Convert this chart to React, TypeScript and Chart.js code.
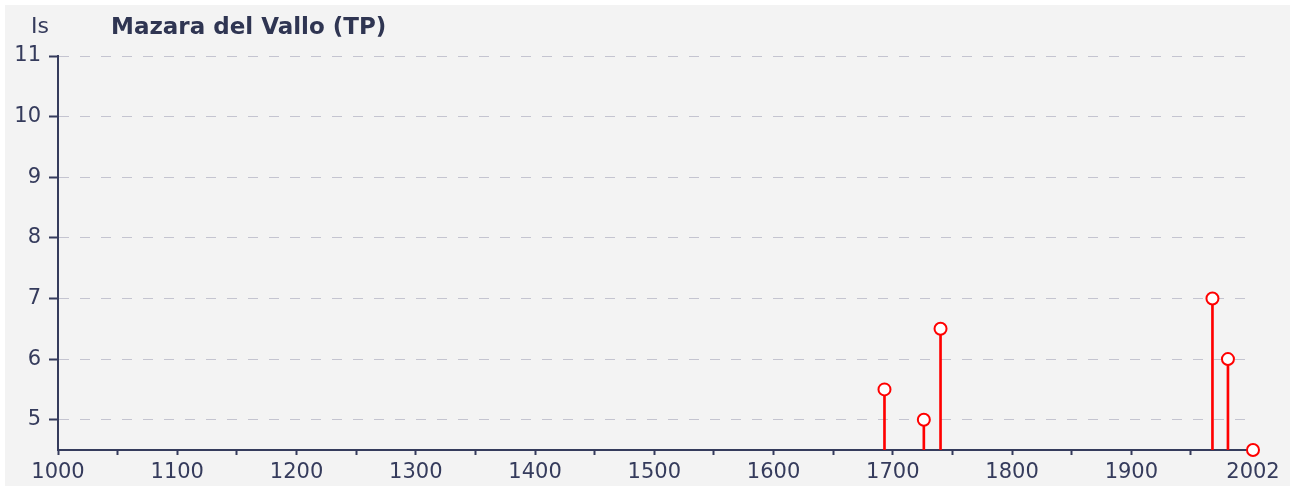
import React, { useEffect, useRef } from "react";
import { Chart, registerables } from "chart.js";

Chart.register(...registerables);

const years = [1693, 1726, 1740, 1968, 1981, 2002];
const intensities = [5.5, 5, 6.5, 7, 6, 4.5];
const xTickValues = [1000, 1050, 1100, 1150, 1200, 1250, 1300, 1350, 1400, 1450, 1500, 1550, 1600, 1650, 1700, 1750, 1800, 1850, 1900, 1950, 2002];
const xLabelValues = [1000, 1100, 1200, 1300, 1400, 1500, 1600, 1700, 1800, 1900, 2002];
const yTickValues = [5, 6, 7, 8, 9, 10, 11];
const titleText = "Mazara del Vallo (TP)";
const yAxisLabel = "Is";

const NAVY = "#353b5c";
const FONT = "'DejaVu Sans', Verdana, sans-serif";

const bgPlugin = {
  id: "bgPanel",
  beforeDraw(chart: any) {
    const ctx = chart.ctx;
    ctx.save();
    ctx.fillStyle = "#ffffff";
    ctx.fillRect(0, 0, chart.width, chart.height);
    ctx.fillStyle = "#f3f3f3";
    ctx.fillRect(5, 5, 1285, 481);
    ctx.restore();
  },
  afterDraw(chart: any) {
    const ctx = chart.ctx;
    ctx.save();
    ctx.fillStyle = "#2f3552";
    ctx.textBaseline = "alphabetic";
    ctx.textAlign = "left";
    ctx.font = `bold 23px ${FONT}`;
    ctx.fillText(titleText, 111, 34);
    ctx.fillStyle = NAVY;
    ctx.font = `22px ${FONT}`;
    ctx.fillText(yAxisLabel, 31, 33);
    ctx.restore();
  },
};

export default function App() {
  const ref = useRef<HTMLCanvasElement | null>(null);
  useEffect(() => {
    if (!ref.current) return;
    const stems = years.map((y, i) => ({ x: y, y: [4.5, intensities[i]] }));
    const points = years.map((y, i) => ({ x: y, y: intensities[i] }));
    const chart = new Chart(ref.current, {
      type: "scatter",
      data: {
        datasets: [
          {
            type: "bar",
            data: stems as any,
            backgroundColor: "#ff0000",
            borderWidth: 0,
            barThickness: 2,
            order: 2,
          } as any,
          {
            type: "scatter",
            data: points,
            pointRadius: 6,
            pointBorderWidth: 2,
            pointBackgroundColor: "#ffffff",
            pointBorderColor: "#ff0000",
            clip: false,
            order: 1,
          } as any,
        ],
      },
      options: {
        responsive: false,
        animation: false,
        layout: { padding: { left: 0, top: 56, right: 39, bottom: 0 } },
        plugins: { legend: { display: false }, tooltip: { enabled: false }, title: { display: false } },
        scales: {
          x: {
            type: "linear",
            offset: false,
            min: 1000,
            max: 2002,
            afterBuildTicks: (scale: any) => {
              scale.ticks = xTickValues.map((v) => ({ value: v }));
            },
            afterFit: (scale: any) => {
              scale.height = 37;
            },
            ticks: {
              autoSkip: false,
              maxRotation: 0,
              padding: 5,
              color: NAVY,
              font: { family: FONT, size: 21 },
              callback: (v: any) => (xLabelValues.includes(Number(v)) ? String(v) : ""),
            },
            grid: {
              offset: false,
              drawOnChartArea: false,
              drawTicks: true,
              tickLength: 5,
              tickColor: NAVY,
              tickWidth: 2,
            },
            border: { display: true, color: NAVY, width: 2 },
          },
          y: {
            type: "linear",
            min: 4.5,
            max: 11,
            afterBuildTicks: (scale: any) => {
              scale.ticks = yTickValues.map((v) => ({ value: v }));
            },
            afterFit: (scale: any) => {
              scale.width = 58;
            },
            ticks: {
              padding: 8,
              color: NAVY,
              font: { family: FONT, size: 21 },
            },
            grid: {
              drawOnChartArea: true,
              color: "#c4c4d0",
              lineWidth: 1,
              tickLength: 9,
              tickColor: NAVY,
              tickWidth: 2,
              tickBorderDash: [],
            } as any,
            border: { display: true, color: NAVY, width: 2, dash: [10, 11] },
          },
        },
      },
      plugins: [bgPlugin],
    } as any);
    return () => chart.destroy();
  }, []);
  return (
    <div style={{ position: "fixed", left: 0, top: 0, width: 1292, height: 487, background: "#fff" }}>
      <canvas ref={ref} width={1292} height={487} style={{ display: "block" }} />
    </div>
  );
}
